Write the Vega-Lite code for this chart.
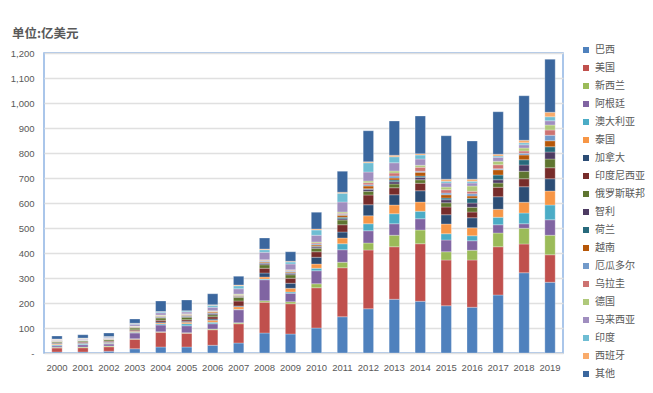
{
  "$schema": "https://vega.github.io/schema/vega-lite/v6.json",
  "width": 519,
  "height": 300,
  "autosize": {"type": "none"},
  "padding": {"left": 44, "top": 53, "right": 90, "bottom": 40},
  "background": "white",
  "config": {
    "view": {"stroke": "#8EB4E3", "strokeWidth": 1.5},
    "font": "Liberation Sans"
  },
  "title": {
    "text": "单位:亿美元",
    "anchor": "start",
    "frame": "group",
    "dx": -32,
    "offset": 14,
    "dy": 13,
    "font": "Noto Sans CJK SC",
    "fontSize": 12.5,
    "fontWeight": "bold",
    "color": "#595959"
  },
  "datasets": {
    "countries": [
      {"country": "巴西", "rank": 1}, {"country": "美国", "rank": 2}, {"country": "新西兰", "rank": 3},
      {"country": "阿根廷", "rank": 4}, {"country": "澳大利亚", "rank": 5}, {"country": "泰国", "rank": 6},
      {"country": "加拿大", "rank": 7}, {"country": "印度尼西亚", "rank": 8}, {"country": "俄罗斯联邦", "rank": 9},
      {"country": "智利", "rank": 10}, {"country": "荷兰", "rank": 11}, {"country": "越南", "rank": 12},
      {"country": "厄瓜多尔", "rank": 13}, {"country": "乌拉圭", "rank": 14}, {"country": "德国", "rank": 15},
      {"country": "马来西亚", "rank": 16}, {"country": "印度", "rank": 17}, {"country": "西班牙", "rank": 18},
      {"country": "其他", "rank": 19}
    ]
  },
  "data": {
    "values": [
      {"year":"2000","country":"巴西","value":4},{"year":"2000","country":"美国","value":16},{"year":"2000","country":"新西兰","value":3},{"year":"2000","country":"阿根廷","value":6},{"year":"2000","country":"澳大利亚","value":4},{"year":"2000","country":"泰国","value":3},{"year":"2000","country":"加拿大","value":3},{"year":"2000","country":"印度尼西亚","value":2},{"year":"2000","country":"俄罗斯联邦","value":4},{"year":"2000","country":"智利","value":1},{"year":"2000","country":"荷兰","value":1},{"year":"2000","country":"越南","value":1},{"year":"2000","country":"厄瓜多尔","value":1},{"year":"2000","country":"乌拉圭","value":1},{"year":"2000","country":"德国","value":1},{"year":"2000","country":"马来西亚","value":3},{"year":"2000","country":"印度","value":1},{"year":"2000","country":"西班牙","value":1},{"year":"2000","country":"其他","value":12},
      {"year":"2001","country":"巴西","value":4},{"year":"2001","country":"美国","value":17},{"year":"2001","country":"新西兰","value":3},{"year":"2001","country":"阿根廷","value":9},{"year":"2001","country":"澳大利亚","value":3},{"year":"2001","country":"泰国","value":2},{"year":"2001","country":"加拿大","value":3},{"year":"2001","country":"印度尼西亚","value":3},{"year":"2001","country":"俄罗斯联邦","value":4},{"year":"2001","country":"智利","value":1},{"year":"2001","country":"荷兰","value":1},{"year":"2001","country":"越南","value":1},{"year":"2001","country":"厄瓜多尔","value":1},{"year":"2001","country":"乌拉圭","value":1},{"year":"2001","country":"德国","value":1},{"year":"2001","country":"马来西亚","value":3},{"year":"2001","country":"印度","value":2},{"year":"2001","country":"西班牙","value":1},{"year":"2001","country":"其他","value":13},
      {"year":"2002","country":"巴西","value":7},{"year":"2002","country":"美国","value":18},{"year":"2002","country":"新西兰","value":3},{"year":"2002","country":"阿根廷","value":8},{"year":"2002","country":"澳大利亚","value":3},{"year":"2002","country":"泰国","value":3},{"year":"2002","country":"加拿大","value":3},{"year":"2002","country":"印度尼西亚","value":3},{"year":"2002","country":"俄罗斯联邦","value":5},{"year":"2002","country":"智利","value":1},{"year":"2002","country":"荷兰","value":1},{"year":"2002","country":"越南","value":1},{"year":"2002","country":"厄瓜多尔","value":1},{"year":"2002","country":"乌拉圭","value":1},{"year":"2002","country":"德国","value":1},{"year":"2002","country":"马来西亚","value":4},{"year":"2002","country":"印度","value":2},{"year":"2002","country":"西班牙","value":1},{"year":"2002","country":"其他","value":14},
      {"year":"2003","country":"巴西","value":17},{"year":"2003","country":"美国","value":38},{"year":"2003","country":"新西兰","value":2},{"year":"2003","country":"阿根廷","value":23},{"year":"2003","country":"澳大利亚","value":3},{"year":"2003","country":"泰国","value":4},{"year":"2003","country":"加拿大","value":2},{"year":"2003","country":"印度尼西亚","value":4},{"year":"2003","country":"俄罗斯联邦","value":7},{"year":"2003","country":"智利","value":2},{"year":"2003","country":"荷兰","value":1},{"year":"2003","country":"越南","value":2},{"year":"2003","country":"厄瓜多尔","value":1},{"year":"2003","country":"乌拉圭","value":1},{"year":"2003","country":"德国","value":1},{"year":"2003","country":"马来西亚","value":7},{"year":"2003","country":"印度","value":3},{"year":"2003","country":"西班牙","value":1},{"year":"2003","country":"其他","value":17},
      {"year":"2004","country":"巴西","value":24},{"year":"2004","country":"美国","value":59},{"year":"2004","country":"新西兰","value":2},{"year":"2004","country":"阿根廷","value":27},{"year":"2004","country":"澳大利亚","value":4},{"year":"2004","country":"泰国","value":4},{"year":"2004","country":"加拿大","value":4},{"year":"2004","country":"印度尼西亚","value":7},{"year":"2004","country":"俄罗斯联邦","value":9},{"year":"2004","country":"智利","value":3},{"year":"2004","country":"荷兰","value":1},{"year":"2004","country":"越南","value":3},{"year":"2004","country":"厄瓜多尔","value":1},{"year":"2004","country":"乌拉圭","value":2},{"year":"2004","country":"德国","value":2},{"year":"2004","country":"马来西亚","value":9},{"year":"2004","country":"印度","value":4},{"year":"2004","country":"西班牙","value":1},{"year":"2004","country":"其他","value":42},
      {"year":"2005","country":"巴西","value":24},{"year":"2005","country":"美国","value":55},{"year":"2005","country":"新西兰","value":2},{"year":"2005","country":"阿根廷","value":28},{"year":"2005","country":"澳大利亚","value":8},{"year":"2005","country":"泰国","value":6},{"year":"2005","country":"加拿大","value":4},{"year":"2005","country":"印度尼西亚","value":6},{"year":"2005","country":"俄罗斯联邦","value":10},{"year":"2005","country":"智利","value":4},{"year":"2005","country":"荷兰","value":1},{"year":"2005","country":"越南","value":3},{"year":"2005","country":"厄瓜多尔","value":2},{"year":"2005","country":"乌拉圭","value":2},{"year":"2005","country":"德国","value":2},{"year":"2005","country":"马来西亚","value":7},{"year":"2005","country":"印度","value":4},{"year":"2005","country":"西班牙","value":1},{"year":"2005","country":"其他","value":43},
      {"year":"2006","country":"巴西","value":31},{"year":"2006","country":"美国","value":62},{"year":"2006","country":"新西兰","value":3},{"year":"2006","country":"阿根廷","value":21},{"year":"2006","country":"澳大利亚","value":6},{"year":"2006","country":"泰国","value":8},{"year":"2006","country":"加拿大","value":5},{"year":"2006","country":"印度尼西亚","value":9},{"year":"2006","country":"俄罗斯联邦","value":8},{"year":"2006","country":"智利","value":6},{"year":"2006","country":"荷兰","value":1},{"year":"2006","country":"越南","value":4},{"year":"2006","country":"厄瓜多尔","value":1},{"year":"2006","country":"乌拉圭","value":2},{"year":"2006","country":"德国","value":2},{"year":"2006","country":"马来西亚","value":14},{"year":"2006","country":"印度","value":8},{"year":"2006","country":"西班牙","value":2},{"year":"2006","country":"其他","value":44},
      {"year":"2007","country":"巴西","value":40},{"year":"2007","country":"美国","value":77},{"year":"2007","country":"新西兰","value":4},{"year":"2007","country":"阿根廷","value":52},{"year":"2007","country":"澳大利亚","value":2},{"year":"2007","country":"泰国","value":10},{"year":"2007","country":"加拿大","value":3},{"year":"2007","country":"印度尼西亚","value":20},{"year":"2007","country":"俄罗斯联邦","value":15},{"year":"2007","country":"智利","value":2},{"year":"2007","country":"荷兰","value":2},{"year":"2007","country":"越南","value":4},{"year":"2007","country":"厄瓜多尔","value":1},{"year":"2007","country":"乌拉圭","value":1},{"year":"2007","country":"德国","value":3},{"year":"2007","country":"马来西亚","value":21},{"year":"2007","country":"印度","value":12},{"year":"2007","country":"西班牙","value":3},{"year":"2007","country":"其他","value":35},
      {"year":"2008","country":"巴西","value":80},{"year":"2008","country":"美国","value":123},{"year":"2008","country":"新西兰","value":6},{"year":"2008","country":"阿根廷","value":84},{"year":"2008","country":"澳大利亚","value":3},{"year":"2008","country":"泰国","value":8},{"year":"2008","country":"加拿大","value":16},{"year":"2008","country":"印度尼西亚","value":19},{"year":"2008","country":"俄罗斯联邦","value":14},{"year":"2008","country":"智利","value":6},{"year":"2008","country":"荷兰","value":2},{"year":"2008","country":"越南","value":4},{"year":"2008","country":"厄瓜多尔","value":3},{"year":"2008","country":"乌拉圭","value":3},{"year":"2008","country":"德国","value":2},{"year":"2008","country":"马来西亚","value":30},{"year":"2008","country":"印度","value":10},{"year":"2008","country":"西班牙","value":3},{"year":"2008","country":"其他","value":44},
      {"year":"2009","country":"巴西","value":76},{"year":"2009","country":"美国","value":121},{"year":"2009","country":"新西兰","value":8},{"year":"2009","country":"阿根廷","value":34},{"year":"2009","country":"澳大利亚","value":5},{"year":"2009","country":"泰国","value":15},{"year":"2009","country":"加拿大","value":20},{"year":"2009","country":"印度尼西亚","value":20},{"year":"2009","country":"俄罗斯联邦","value":14},{"year":"2009","country":"智利","value":6},{"year":"2009","country":"荷兰","value":2},{"year":"2009","country":"越南","value":4},{"year":"2009","country":"厄瓜多尔","value":3},{"year":"2009","country":"乌拉圭","value":3},{"year":"2009","country":"德国","value":2},{"year":"2009","country":"马来西亚","value":23},{"year":"2009","country":"印度","value":8},{"year":"2009","country":"西班牙","value":3},{"year":"2009","country":"其他","value":38},
      {"year":"2010","country":"巴西","value":100},{"year":"2010","country":"美国","value":161},{"year":"2010","country":"新西兰","value":16},{"year":"2010","country":"阿根廷","value":52},{"year":"2010","country":"澳大利亚","value":10},{"year":"2010","country":"泰国","value":17},{"year":"2010","country":"加拿大","value":27},{"year":"2010","country":"印度尼西亚","value":22},{"year":"2010","country":"俄罗斯联邦","value":14},{"year":"2010","country":"智利","value":5},{"year":"2010","country":"荷兰","value":3},{"year":"2010","country":"越南","value":5},{"year":"2010","country":"厄瓜多尔","value":4},{"year":"2010","country":"乌拉圭","value":4},{"year":"2010","country":"德国","value":4},{"year":"2010","country":"马来西亚","value":27},{"year":"2010","country":"印度","value":21},{"year":"2010","country":"西班牙","value":4},{"year":"2010","country":"其他","value":67},
      {"year":"2011","country":"巴西","value":145},{"year":"2011","country":"美国","value":196},{"year":"2011","country":"新西兰","value":22},{"year":"2011","country":"阿根廷","value":50},{"year":"2011","country":"澳大利亚","value":24},{"year":"2011","country":"泰国","value":23},{"year":"2011","country":"加拿大","value":24},{"year":"2011","country":"印度尼西亚","value":29},{"year":"2011","country":"俄罗斯联邦","value":19},{"year":"2011","country":"智利","value":5},{"year":"2011","country":"荷兰","value":6},{"year":"2011","country":"越南","value":8},{"year":"2011","country":"厄瓜多尔","value":4},{"year":"2011","country":"乌拉圭","value":4},{"year":"2011","country":"德国","value":5},{"year":"2011","country":"马来西亚","value":40},{"year":"2011","country":"印度","value":35},{"year":"2011","country":"西班牙","value":4},{"year":"2011","country":"其他","value":84},
      {"year":"2012","country":"巴西","value":177},{"year":"2012","country":"美国","value":235},{"year":"2012","country":"新西兰","value":28},{"year":"2012","country":"阿根廷","value":49},{"year":"2012","country":"澳大利亚","value":28},{"year":"2012","country":"泰国","value":32},{"year":"2012","country":"加拿大","value":44},{"year":"2012","country":"印度尼西亚","value":39},{"year":"2012","country":"俄罗斯联邦","value":15},{"year":"2012","country":"智利","value":8},{"year":"2012","country":"荷兰","value":2},{"year":"2012","country":"越南","value":11},{"year":"2012","country":"厄瓜多尔","value":5},{"year":"2012","country":"乌拉圭","value":8},{"year":"2012","country":"德国","value":7},{"year":"2012","country":"马来西亚","value":36},{"year":"2012","country":"印度","value":37},{"year":"2012","country":"西班牙","value":4},{"year":"2012","country":"其他","value":124},
      {"year":"2013","country":"巴西","value":215},{"year":"2013","country":"美国","value":210},{"year":"2013","country":"新西兰","value":46},{"year":"2013","country":"阿根廷","value":46},{"year":"2013","country":"澳大利亚","value":40},{"year":"2013","country":"泰国","value":35},{"year":"2013","country":"加拿大","value":41},{"year":"2013","country":"印度尼西亚","value":28},{"year":"2013","country":"俄罗斯联邦","value":15},{"year":"2013","country":"智利","value":9},{"year":"2013","country":"荷兰","value":7},{"year":"2013","country":"越南","value":8},{"year":"2013","country":"厄瓜多尔","value":8},{"year":"2013","country":"乌拉圭","value":12},{"year":"2013","country":"德国","value":8},{"year":"2013","country":"马来西亚","value":33},{"year":"2013","country":"印度","value":24},{"year":"2013","country":"西班牙","value":6},{"year":"2013","country":"其他","value":137},
      {"year":"2014","country":"巴西","value":207},{"year":"2014","country":"美国","value":230},{"year":"2014","country":"新西兰","value":55},{"year":"2014","country":"阿根廷","value":45},{"year":"2014","country":"澳大利亚","value":30},{"year":"2014","country":"泰国","value":37},{"year":"2014","country":"加拿大","value":45},{"year":"2014","country":"印度尼西亚","value":30},{"year":"2014","country":"俄罗斯联邦","value":14},{"year":"2014","country":"智利","value":10},{"year":"2014","country":"荷兰","value":5},{"year":"2014","country":"越南","value":15},{"year":"2014","country":"厄瓜多尔","value":4},{"year":"2014","country":"乌拉圭","value":16},{"year":"2014","country":"德国","value":8},{"year":"2014","country":"马来西亚","value":25},{"year":"2014","country":"印度","value":16},{"year":"2014","country":"西班牙","value":5},{"year":"2014","country":"其他","value":151},
      {"year":"2015","country":"巴西","value":189},{"year":"2015","country":"美国","value":183},{"year":"2015","country":"新西兰","value":33},{"year":"2015","country":"阿根廷","value":47},{"year":"2015","country":"澳大利亚","value":25},{"year":"2015","country":"泰国","value":39},{"year":"2015","country":"加拿大","value":37},{"year":"2015","country":"印度尼西亚","value":31},{"year":"2015","country":"俄罗斯联邦","value":17},{"year":"2015","country":"智利","value":12},{"year":"2015","country":"荷兰","value":7},{"year":"2015","country":"越南","value":13},{"year":"2015","country":"厄瓜多尔","value":7},{"year":"2015","country":"乌拉圭","value":13},{"year":"2015","country":"德国","value":11},{"year":"2015","country":"马来西亚","value":16},{"year":"2015","country":"印度","value":7},{"year":"2015","country":"西班牙","value":8},{"year":"2015","country":"其他","value":174},
      {"year":"2016","country":"巴西","value":183},{"year":"2016","country":"美国","value":189},{"year":"2016","country":"新西兰","value":39},{"year":"2016","country":"阿根廷","value":38},{"year":"2016","country":"澳大利亚","value":20},{"year":"2016","country":"泰国","value":32},{"year":"2016","country":"加拿大","value":40},{"year":"2016","country":"印度尼西亚","value":23},{"year":"2016","country":"俄罗斯联邦","value":19},{"year":"2016","country":"智利","value":17},{"year":"2016","country":"荷兰","value":19},{"year":"2016","country":"越南","value":9},{"year":"2016","country":"厄瓜多尔","value":9},{"year":"2016","country":"乌拉圭","value":10},{"year":"2016","country":"德国","value":21},{"year":"2016","country":"马来西亚","value":12},{"year":"2016","country":"印度","value":7},{"year":"2016","country":"西班牙","value":8},{"year":"2016","country":"其他","value":153},
      {"year":"2017","country":"巴西","value":232},{"year":"2017","country":"美国","value":193},{"year":"2017","country":"新西兰","value":55},{"year":"2017","country":"阿根廷","value":33},{"year":"2017","country":"澳大利亚","value":30},{"year":"2017","country":"泰国","value":32},{"year":"2017","country":"加拿大","value":50},{"year":"2017","country":"印度尼西亚","value":38},{"year":"2017","country":"俄罗斯联邦","value":17},{"year":"2017","country":"智利","value":13},{"year":"2017","country":"荷兰","value":19},{"year":"2017","country":"越南","value":21},{"year":"2017","country":"厄瓜多尔","value":4},{"year":"2017","country":"乌拉圭","value":16},{"year":"2017","country":"德国","value":14},{"year":"2017","country":"马来西亚","value":16},{"year":"2017","country":"印度","value":5},{"year":"2017","country":"西班牙","value":7},{"year":"2017","country":"其他","value":170},
      {"year":"2018","country":"巴西","value":321},{"year":"2018","country":"美国","value":115},{"year":"2018","country":"新西兰","value":63},{"year":"2018","country":"阿根廷","value":18},{"year":"2018","country":"澳大利亚","value":43},{"year":"2018","country":"泰国","value":43},{"year":"2018","country":"加拿大","value":62},{"year":"2018","country":"印度尼西亚","value":32},{"year":"2018","country":"俄罗斯联邦","value":30},{"year":"2018","country":"智利","value":25},{"year":"2018","country":"荷兰","value":21},{"year":"2018","country":"越南","value":19},{"year":"2018","country":"厄瓜多尔","value":7},{"year":"2018","country":"乌拉圭","value":9},{"year":"2018","country":"德国","value":12},{"year":"2018","country":"马来西亚","value":13},{"year":"2018","country":"印度","value":8},{"year":"2018","country":"西班牙","value":10},{"year":"2018","country":"其他","value":178},
      {"year":"2019","country":"巴西","value":283},{"year":"2019","country":"美国","value":110},{"year":"2019","country":"新西兰","value":78},{"year":"2019","country":"阿根廷","value":62},{"year":"2019","country":"澳大利亚","value":59},{"year":"2019","country":"泰国","value":56},{"year":"2019","country":"加拿大","value":49},{"year":"2019","country":"印度尼西亚","value":44},{"year":"2019","country":"俄罗斯联邦","value":35},{"year":"2019","country":"智利","value":28},{"year":"2019","country":"荷兰","value":21},{"year":"2019","country":"越南","value":24},{"year":"2019","country":"厄瓜多尔","value":22},{"year":"2019","country":"乌拉圭","value":21},{"year":"2019","country":"德国","value":20},{"year":"2019","country":"马来西亚","value":17},{"year":"2019","country":"印度","value":16},{"year":"2019","country":"西班牙","value":18},{"year":"2019","country":"其他","value":212}
    ]
  },
  "transform": [
    {"lookup": "country", "from": {"data": {"name": "countries"}, "key": "country", "fields": ["rank"]}}
  ],
  "mark": {"type": "bar", "stroke": "#FFFFFF", "strokeWidth": 0.4, "strokeOpacity": 0.7},
  "encoding": {
    "x": {
      "field": "year",
      "type": "ordinal",
      "scale": {"paddingInner": 0.6, "paddingOuter": 0.3},
      "axis": {
        "title": null,
        "labelAngle": 0,
        "domain": false,
        "ticks": false,
        "labelPadding": 9,
        "labelFontSize": 9.5,
        "labelColor": "#595959"
      }
    },
    "y": {
      "field": "value",
      "type": "quantitative",
      "aggregate": "sum",
      "stack": "zero",
      "scale": {"domain": [0, 1200], "nice": false},
      "axis": {
        "title": null,
        "values": [0, 100, 200, 300, 400, 500, 600, 700, 800, 900, 1000, 1100, 1200],
        "labelExpr": "datum.value == 0 ? '-' : format(datum.value, ',')",
        "domain": false,
        "ticks": false,
        "labelPadding": 10,
        "labelFontSize": 9.5,
        "labelColor": "#595959",
        "gridColor": "#E0E0E0",
        "gridWidth": 1.5
      }
    },
    "color": {
      "field": "country",
      "type": "nominal",
      "scale": {
        "domain": ["巴西", "美国", "新西兰", "阿根廷", "澳大利亚", "泰国", "加拿大", "印度尼西亚", "俄罗斯联邦", "智利", "荷兰", "越南", "厄瓜多尔", "乌拉圭", "德国", "马来西亚", "印度", "西班牙", "其他"],
        "range": ["#4F81BD", "#C0504D", "#9BBB59", "#8064A2", "#4BACC6", "#F79646", "#2C4D75", "#772C2A", "#5F7530", "#4D3B62", "#276A7C", "#B65708", "#729ACA", "#CD7371", "#AFC97A", "#A08EBF", "#6FBDD3", "#F9AB6B", "#3B679E"]
      },
      "legend": {
        "title": null,
        "orient": "none",
        "legendX": 537,
        "legendY": -12,
        "symbolType": "square",
        "symbolSize": 36,
        "symbolStrokeWidth": 0,
        "labelFont": "Noto Sans CJK SC",
        "labelFontSize": 10,
        "labelColor": "#595959",
        "labelOffset": 4,
        "clipHeight": 18,
        "rowPadding": 0
      }
    },
    "order": {"field": "rank", "type": "quantitative", "sort": "ascending"}
  }
}
